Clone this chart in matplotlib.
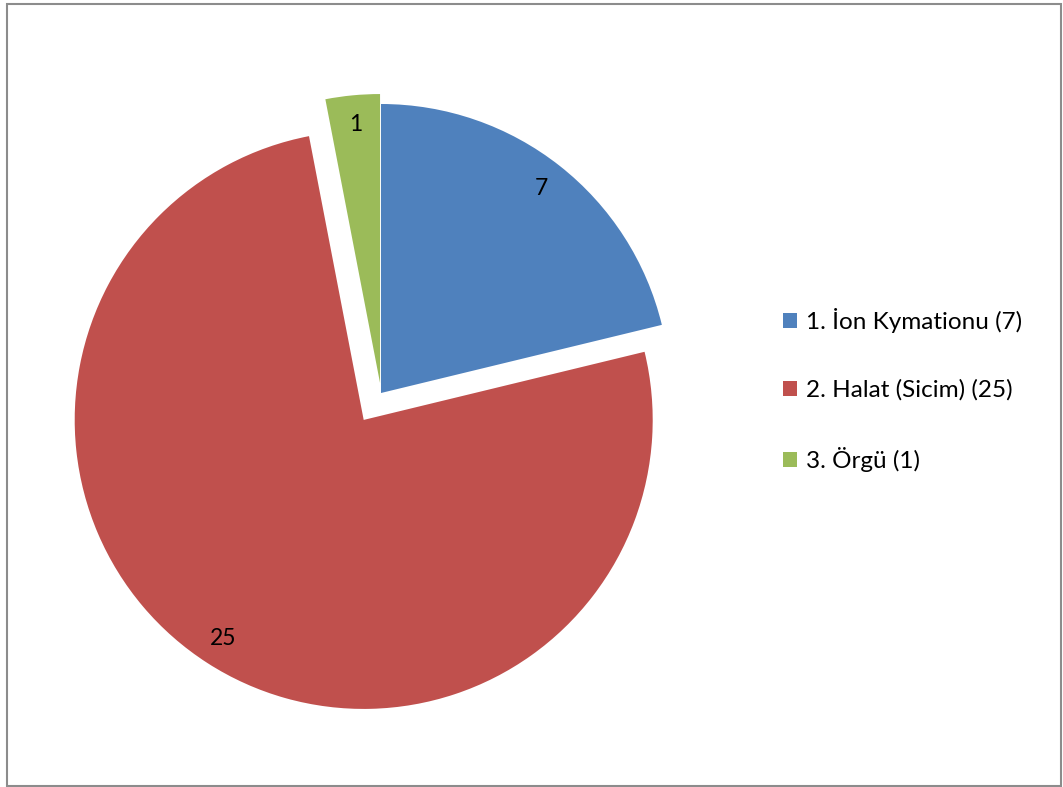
import matplotlib.pyplot as plt
from matplotlib.patches import Patch, Rectangle

# data
labels = ['1. İon Kymationu (7)', '2. Halat (Sicim) (25)', '3. Örgü (1)']
values = [7, 25, 1]
colors = ['#4F81BD', '#C0504D', '#9BBB59']
explode = [0, 32, 10]   # pixel offset of each slice
total = sum(values)

plt.rcParams['font.family'] = ['Lato', 'DejaVu Sans']

fig = plt.figure(figsize=(10.63, 7.87), dpi=100)
ax = fig.add_axes([0, 0, 1, 1])

# pie in pixel units (y up)
ax.pie(values, colors=colors, explode=explode, startangle=90, counterclock=False,
       center=(381, 787 - 393), radius=289,
       autopct=lambda p: '%d' % round(p * total / 100), pctdistance=0.9,
       textprops={'fontsize': 16.5, 'color': 'black'},
       wedgeprops={'linewidth': 0})

ax.set_xlim(0, 1063)
ax.set_ylim(0, 787)
ax.set_aspect('equal')
ax.axis('off')

# legend
handles = [Patch(facecolor=c, edgecolor='none') for c in colors]
fig.legend(handles, labels, loc='center left', bbox_to_anchor=(783 / 1063, 1 - 390 / 787),
           bbox_transform=fig.transFigure, frameon=False, fontsize=17.5,
           handlelength=0.58, handleheight=0.58, handletextpad=0.35,
           labelspacing=1.9, borderpad=0, borderaxespad=0)

# chart frame
fig.patches.append(Rectangle((7 / 1063, 1 / 787), 1054 / 1063, 782 / 787,
                             transform=fig.transFigure, fill=False,
                             edgecolor='#8c8c8c', linewidth=1.5))

fig.savefig('out.png', dpi=100)
